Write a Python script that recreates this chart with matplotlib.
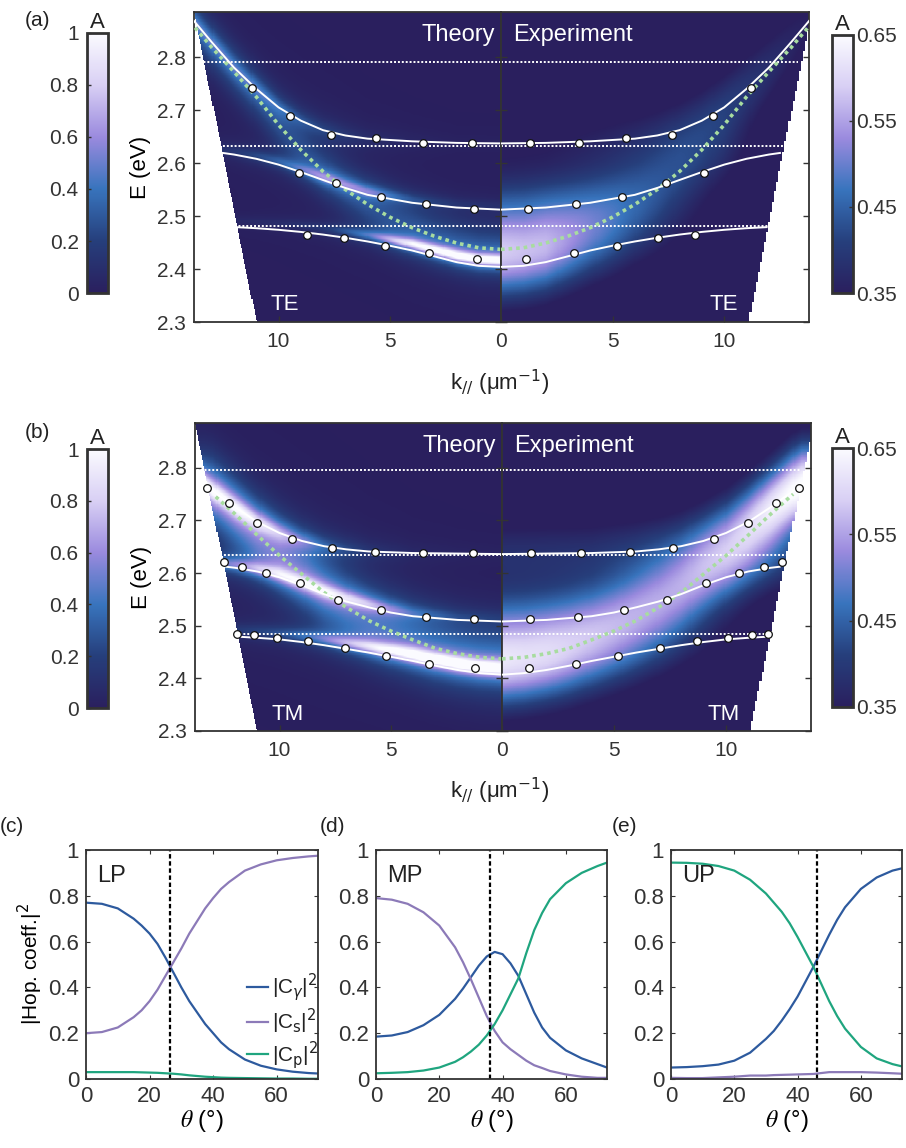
import numpy as np
import matplotlib.pyplot as plt
from matplotlib.colors import LinearSegmentedColormap

plt.rcParams['font.family'] = ['Liberation Sans', 'DejaVu Sans']
plt.rcParams['font.size'] = 15
plt.rcParams['axes.edgecolor'] = '#333333'
plt.rcParams['xtick.color'] = '#333333'
plt.rcParams['ytick.color'] = '#333333'
plt.rcParams['text.color'] = '#222222'

# k grid (um^-1) on which the map weights are given
k_w = [0, 2, 4, 6, 8, 10, 12, 14]

# ---------------- (a) TE ----------------
a_up_k = [0, 2, 4, 6, 7, 8, 9, 10, 11, 12, 13, 13.8]
a_up_E = [2.637, 2.638, 2.641, 2.646, 2.652, 2.662, 2.680, 2.705, 2.740, 2.780, 2.828, 2.868]
a_mp_k = [0, 2, 4, 6, 7, 8, 9, 10, 11, 12, 12.5]
a_mp_E = [2.512, 2.516, 2.525, 2.540, 2.553, 2.568, 2.583, 2.597, 2.608, 2.616, 2.619]
a_lp_k = [0, 1, 2, 3, 4, 5, 6, 7, 8, 9, 10, 11, 11.9]
a_lp_E = [2.404, 2.406, 2.413, 2.424, 2.435, 2.444, 2.452, 2.459, 2.465, 2.470, 2.474, 2.477, 2.479]
a_cav_k = [0, 1, 2, 3, 4, 5, 6, 7, 8, 9, 10, 11, 12, 13, 13.8]
a_cav_E = [2.437, 2.440, 2.449, 2.462, 2.478, 2.498, 2.522, 2.550, 2.584, 2.625, 2.672, 2.725, 2.772, 2.818, 2.858]
a_exc_E = [2.790, 2.632, 2.481]
a_exc_kth = [13.35, 12.6, 11.85]
a_exc_kex = [13.3, 12.65, 12.05]
a_dot_up_k = [1.3, 3.5, 5.6, 7.65, 9.5, 11.2]
a_dot_up_E = [2.638, 2.638, 2.647, 2.653, 2.689, 2.742]
a_dot_mp_k = [1.2, 3.35, 5.4, 7.4, 9.1]
a_dot_mp_E = [2.514, 2.523, 2.536, 2.562, 2.582]
a_dot_lp_k = [1.1, 3.25, 5.2, 7.05, 8.7]
a_dot_lp_E = [2.418, 2.430, 2.443, 2.458, 2.465]
# map weights: LP, MP, UP, bare cavity
a_th_lp = [1.0, 1.0, 0.85, 0.4, 0.15, 0.08, 0.05, 0.03]
a_th_mp = [0.08, 0.1, 0.2, 0.4, 0.45, 0.3, 0.15, 0.08]
a_th_up = [0.02, 0.02, 0.04, 0.08, 0.2, 0.28, 0.3, 0.3]
a_th_cav = [0.22, 0.22, 0.22, 0.22, 0.2, 0.2, 0.2, 0.2]
a_ex_lp = [0.2, 0.18, 0.12, 0.07, 0.04, 0.02, 0.0, 0.0]
a_ex_mp = [0.08, 0.08, 0.07, 0.06, 0.05, 0.04, 0.02, 0.0]
a_ex_up = [0.04, 0.04, 0.05, 0.06, 0.07, 0.07, 0.05, 0.03]
a_ex_cav = [0.08, 0.08, 0.07, 0.06, 0.05, 0.04, 0.03, 0.02]

# ---------------- (b) TM ----------------
b_up_k = [0, 2, 4, 6, 7, 8, 9, 10, 11, 12, 13, 13.4]
b_up_E = [2.636, 2.637, 2.638, 2.641, 2.645, 2.651, 2.661, 2.676, 2.697, 2.725, 2.756, 2.772]
b_mp_k = [0, 2, 4, 5, 6, 7, 8, 9, 10, 11, 12, 12.4]
b_mp_E = [2.508, 2.511, 2.518, 2.525, 2.535, 2.546, 2.560, 2.577, 2.592, 2.603, 2.610, 2.612]
b_lp_k = [0, 1, 2, 3, 4, 5, 6, 7, 8, 9, 10, 11, 11.8]
b_lp_E = [2.407, 2.410, 2.416, 2.424, 2.433, 2.441, 2.449, 2.456, 2.463, 2.469, 2.474, 2.477, 2.479]
b_cav_k = [0, 1, 2, 3, 4, 5, 6, 7, 8, 9, 10, 11, 12, 13]
b_cav_E = [2.437, 2.440, 2.447, 2.457, 2.473, 2.490, 2.510, 2.535, 2.563, 2.598, 2.633, 2.672, 2.712, 2.750]
b_exc_E = [2.795, 2.635, 2.485]
b_exc_kth = [13.8, 12.6, 11.9]
b_exc_kex = [13.3, 12.7, 11.9]
b_dot_up_k = [1.3, 3.55, 5.7, 7.65, 9.45, 11.0, 12.25, 13.25]
b_dot_up_E = [2.638, 2.638, 2.640, 2.647, 2.665, 2.695, 2.733, 2.762]
b_dot_mp_k = [1.25, 3.4, 5.45, 7.35, 9.1, 10.6, 11.7, 12.5]
b_dot_mp_E = [2.512, 2.516, 2.529, 2.548, 2.581, 2.600, 2.612, 2.621]
b_dot_lp_k = [1.2, 3.3, 5.2, 7.05, 8.7, 10.1, 11.15, 11.9]
b_dot_lp_E = [2.420, 2.428, 2.442, 2.457, 2.470, 2.477, 2.483, 2.484]
b_th_lp = [1.0, 1.0, 0.95, 0.7, 0.45, 0.25, 0.15, 0.08]
b_th_mp = [0.08, 0.12, 0.25, 0.5, 0.65, 0.65, 0.5, 0.35]
b_th_up = [0.02, 0.03, 0.05, 0.12, 0.28, 0.5, 0.65, 0.65]
b_th_cav = [0.3, 0.3, 0.3, 0.33, 0.36, 0.38, 0.4, 0.4]
b_ex_lp = [0.22, 0.2, 0.15, 0.1, 0.06, 0.03, 0.01, 0.0]
b_ex_mp = [0.09, 0.09, 0.09, 0.1, 0.1, 0.1, 0.08, 0.06]
b_ex_up = [0.08, 0.08, 0.08, 0.09, 0.1, 0.13, 0.2, 0.24]
b_ex_cav = [0.09, 0.09, 0.1, 0.11, 0.12, 0.12, 0.13, 0.14]

# ---------------- (c)-(e) Hopfield coefficients ----------------
lp_t = [0, 5, 10, 15, 17.5, 20, 22.5, 25, 27.5, 30, 32.5, 35, 37.5, 40, 42.5, 45, 50, 55, 60, 65, 70, 73]
lp_g = [0.77, 0.765, 0.745, 0.70, 0.67, 0.635, 0.59, 0.53, 0.465, 0.40, 0.34, 0.29, 0.24, 0.20, 0.16,
        0.13, 0.085, 0.058, 0.042, 0.032, 0.026, 0.024]
lp_s = [0.20, 0.205, 0.225, 0.27, 0.30, 0.34, 0.39, 0.45, 0.51, 0.57, 0.635, 0.69, 0.745, 0.79, 0.83,
        0.86, 0.91, 0.937, 0.955, 0.965, 0.972, 0.975]
lp_p = [0.03, 0.03, 0.03, 0.03, 0.029, 0.028, 0.027, 0.025, 0.023, 0.02, 0.016, 0.013, 0.01, 0.008,
        0.006, 0.005, 0.004, 0.003, 0.002, 0.002, 0.001, 0.001]
mp_t = [0, 5, 10, 15, 20, 25, 27.5, 30, 32.5, 35, 37.5, 40, 42.5, 45, 47.5, 50, 52.5, 55, 60, 65, 70, 73]
mp_g = [0.185, 0.19, 0.205, 0.235, 0.28, 0.35, 0.395, 0.445, 0.495, 0.535, 0.555, 0.545, 0.505, 0.45,
        0.37, 0.29, 0.225, 0.18, 0.125, 0.09, 0.065, 0.05]
mp_s = [0.79, 0.783, 0.765, 0.728, 0.67, 0.575, 0.51, 0.435, 0.355, 0.275, 0.21, 0.16, 0.13, 0.105,
        0.08, 0.06, 0.048, 0.035, 0.02, 0.01, 0.005, 0.005]
mp_p = [0.025, 0.027, 0.03, 0.037, 0.05, 0.075, 0.095, 0.12, 0.15, 0.19, 0.24, 0.30, 0.37, 0.44,
        0.55, 0.65, 0.725, 0.785, 0.855, 0.9, 0.93, 0.945]
up_t = [0, 5, 10, 15, 20, 25, 30, 32.5, 35, 37.5, 40, 42.5, 45, 47.5, 50, 52.5, 55, 60, 65, 70, 73]
up_g = [0.05, 0.052, 0.056, 0.063, 0.08, 0.115, 0.175, 0.21, 0.255, 0.305, 0.36, 0.425, 0.49, 0.56,
        0.63, 0.695, 0.75, 0.83, 0.88, 0.91, 0.92]
up_s = [0.005, 0.004, 0.004, 0.007, 0.01, 0.015, 0.015, 0.017, 0.018, 0.019, 0.02, 0.021, 0.022,
        0.026, 0.03, 0.03, 0.03, 0.03, 0.028, 0.025, 0.023]
up_p = [0.945, 0.944, 0.94, 0.93, 0.91, 0.87, 0.81, 0.77, 0.73, 0.68, 0.62, 0.555, 0.49, 0.415,
        0.34, 0.275, 0.22, 0.14, 0.09, 0.065, 0.055]
theta_cross = [26.5, 36.1, 46.1]

HC = 0.19733  # eV um
cmap = LinearSegmentedColormap.from_list(
    'abs', [(0, '#2a1f5e'), (0.2, '#263f7c'), (0.4, '#3874bd'), (0.6, '#9a8ade'),
            (0.8, '#d8cff4'), (1, '#fbfbff')]).with_extremes(bad='white')

W, H = 906, 1148
fig = plt.figure(figsize=(W / 100, H / 100), dpi=100)


def ax_px(x0, y0, x1, y1):
    return fig.add_axes([x0 / W, 1 - y1 / H, (x1 - x0) / W, (y1 - y0) / H])


def absorption(kabs, E, bands, amps, cav, cav_amp, wids, offs, cav_wid, base, lorentz):
    img = np.full(E.shape, base, dtype=float)
    for (bk, bE), amp, wd, off in zip(bands, amps, wids, offs):
        x = (E - np.interp(kabs, bk, bE) - off) / wd
        shape = 1 / (1 + x ** 2) if lorentz else np.exp(-0.5 * x ** 2)
        img += np.interp(kabs, k_w, amp) * shape
    x = (E - np.interp(kabs, cav[0], cav[1])) / cav_wid
    img += np.interp(kabs, k_w, cav_amp) * np.exp(-0.5 * x ** 2)
    return img


E_top = 2.885
E_ax = np.linspace(2.3, E_top, 420)
k_th = np.linspace(-13.8, 0, 300)
k_ex = np.linspace(0, 13.8, 300)


def style_ax(ax):
    ax.tick_params(direction='in', left=True, right=True, top=False, bottom=True,
                   length=4, width=1, labelsize=15)
    for s in ax.spines.values():
        s.set_linewidth(1.3)


def dispersion_panel(top, bot, xL, xM, xR, bands, cav, exc, dots, th, ex, pol, th_w):
    axL = ax_px(xL, top, xM, bot)
    axR = ax_px(xM, top, xR, bot)
    band_xy = [(bands[i], bands[i + 1]) for i in (4, 2, 0)]  # LP, MP, UP

    KK, EE = np.meshgrid(np.abs(k_th), E_ax)
    img = absorption(KK, EE, band_xy, th[:3], cav, th[3], th_w[:3],
                     [0.012, 0.006, 0.0], th_w[3], 0.0, True)
    img[KK > EE / HC * 0.945] = np.nan
    imL = axL.imshow(img, extent=[-13.8, 0, 2.3, E_top], origin='lower', aspect='auto',
                     cmap=cmap, vmin=0, vmax=1, interpolation='nearest')

    KK, EE = np.meshgrid(k_ex, E_ax)
    img = absorption(KK, EE, band_xy, ex[:3], cav, ex[3], [0.055, 0.045, 0.05],
                     [0.02, 0.01, 0.0], 0.07, 0.30, False)
    Eq = np.floor(EE / 0.019) * 0.019
    img[KK > Eq / HC * 0.958] = np.nan
    imR = axR.imshow(img, extent=[0, 13.8, 2.3, E_top], origin='lower', aspect='auto',
                     cmap=cmap, vmin=0.35, vmax=0.65, interpolation='nearest')

    for ax, sgn in ((axL, -1), (axR, 1)):
        ext = exc[1] if sgn < 0 else exc[2]
        for e, kend in zip(exc[0], ext):
            ax.plot([0, sgn * kend], [e, e], color='white', lw=1.4, ls=(0, (1, 1)), zorder=2)
        ax.plot(sgn * np.array(cav[0]), cav[1], color='#a8dca0', lw=2.6,
                ls=(0, (1, 1.1)), zorder=3)
        for i in (0, 2, 4):
            ax.plot(sgn * np.array(bands[i]), bands[i + 1], color='white', lw=1.4, zorder=4)
        for i in (0, 2, 4):
            ax.plot(sgn * np.array(dots[i]), dots[i + 1], 'o', ms=5.5, mfc='white',
                    mec='#111111', mew=0.9, zorder=5)
        ax.set_ylim(2.3, E_top)
        style_ax(ax)
        ax.set_yticks([2.3, 2.4, 2.5, 2.6, 2.7, 2.8])
    axL.set_xlim(-13.8, 0)
    axR.set_xlim(0, 13.8)
    axL.set_yticklabels(['2.3', '2.4', '2.5', '2.6', '2.7', '2.8'])
    axR.set_yticklabels([])
    axL.tick_params(axis='y', pad=6)
    axL.set_xticks([-10, -5, 0])
    axL.set_xticklabels(['10', '5', '0'])
    axR.set_xticks([0, 5, 10])
    axR.set_xticklabels(['', '5', '10'])
    for ax in (axL, axR):
        ax.tick_params(axis='x', pad=7)
    axL.set_ylabel('E (eV)', fontsize=16, labelpad=4)

    axL.text(0.98, 0.925, 'Theory', transform=axL.transAxes, ha='right', va='center',
             color='white', fontsize=17)
    axR.text(0.04, 0.925, 'Experiment', transform=axR.transAxes, ha='left', va='center',
             color='white', fontsize=17)
    axL.text(0.25, 0.055, pol, transform=axL.transAxes, ha='left', va='center',
             color='white', fontsize=16)
    axR.text(0.77, 0.055, pol, transform=axR.transAxes, ha='right', va='center',
             color='white', fontsize=16)
    return axL, axR, imL, imR


def colorbars(im_th, im_ex, top, bot, top2, bot2):
    caxL = ax_px(87, top, 108, bot)
    cb = fig.colorbar(im_th, cax=caxL)
    caxL.yaxis.set_ticks_position('left')
    cb.set_ticks([0, 0.2, 0.4, 0.6, 0.8, 1])
    cb.set_ticklabels(['0', '0.2', '0.4', '0.6', '0.8', '1'])
    caxL.tick_params(direction='in', length=3, width=1, pad=6, labelsize=15)
    cb.outline.set_linewidth(2)
    cb.outline.set_edgecolor('#333333')
    caxL.set_title('A', fontsize=16, pad=1)

    caxR = ax_px(832, top2, 853, bot2)
    cb = fig.colorbar(im_ex, cax=caxR)
    cb.set_ticks([0.35, 0.45, 0.55, 0.65])
    cb.set_ticklabels(['0.35', '0.45', '0.55', '0.65'])
    caxR.tick_params(direction='in', length=3, width=1, pad=2, labelsize=15)
    cb.outline.set_linewidth(2)
    cb.outline.set_edgecolor('#333333')
    caxR.set_title('A', fontsize=16, pad=1)


# panel (a)
axL, axR, imL, imR = dispersion_panel(
    12, 322, 194, 501, 809,
    [a_up_k, a_up_E, a_mp_k, a_mp_E, a_lp_k, a_lp_E], (a_cav_k, a_cav_E),
    (a_exc_E, a_exc_kth, a_exc_kex),
    [a_dot_up_k, a_dot_up_E, a_dot_mp_k, a_dot_mp_E, a_dot_lp_k, a_dot_lp_E],
    [a_th_lp, a_th_mp, a_th_up, a_th_cav], [a_ex_lp, a_ex_mp, a_ex_up, a_ex_cav], 'TE',
    [0.010, 0.012, 0.02, 0.035])
colorbars(imL, imR, 33, 293, 35, 293)
fig.text(500 / W, 1 - 383 / H, r'k$_{//}$ (μm$^{-1}$)', ha='center', va='center', fontsize=16)

# panel (b)
axL, axR, imL, imR = dispersion_panel(
    423, 731, 195, 502, 811,
    [b_up_k, b_up_E, b_mp_k, b_mp_E, b_lp_k, b_lp_E], (b_cav_k, b_cav_E),
    (b_exc_E, b_exc_kth, b_exc_kex),
    [b_dot_up_k, b_dot_up_E, b_dot_mp_k, b_dot_mp_E, b_dot_lp_k, b_dot_lp_E],
    [b_th_lp, b_th_mp, b_th_up, b_th_cav], [b_ex_lp, b_ex_mp, b_ex_up, b_ex_cav], 'TM',
    [0.013, 0.014, 0.02, 0.05])
colorbars(imL, imR, 449, 708, 448, 707)
fig.text(500 / W, 1 - 791 / H, r'k$_{//}$ (μm$^{-1}$)', ha='center', va='center', fontsize=16)

# panels (c)-(e)
c_blue, c_purple, c_green = '#2d5a9e', '#8c7ab8', '#1fa57f'
hop = [(lp_t, lp_g, lp_s, lp_p, 'LP'), (mp_t, mp_g, mp_s, mp_p, 'MP'),
       (up_t, up_g, up_s, up_p, 'UP')]
xs = [(86, 318), (376, 607), (671, 902)]
for (t, g, s, p, name), (x0, x1), tc in zip(hop, xs, theta_cross):
    ax = ax_px(x0, 850, x1, 1079)
    ax.plot(t, g, color=c_blue, lw=1.6, label=r'|C$_{\gamma}$|$^2$')
    ax.plot(t, s, color=c_purple, lw=1.6, label=r'|C$_{\rm s}$|$^2$')
    ax.plot(t, p, color=c_green, lw=1.6, label=r'|C$_{\rm p}$|$^2$')
    ax.axvline(tc, color='black', lw=1.6, ls=(0, (2, 1.2)))
    ax.set_xlim(0, 73)
    ax.set_ylim(0, 1)
    ax.set_xticks([0, 20, 40, 60])
    ax.set_yticks([0, 0.2, 0.4, 0.6, 0.8, 1])
    ax.set_yticklabels(['0', '0.2', '0.4', '0.6', '0.8', '1'])
    ax.tick_params(direction='in', top=True, right=True, length=3, width=0.8,
                   labelsize=16, pad=5)
    for sp in ax.spines.values():
        sp.set_linewidth(1.3)
    ax.text(0.05, 0.885, name, transform=ax.transAxes, ha='left', va='center', fontsize=17)
    ax.set_xlabel(r'$\theta$ (°)', fontsize=17, labelpad=1, math_fontfamily='stix')
    if name == 'LP':
        ax.set_ylabel('|Hop. coeff.|$^2$', fontsize=15, labelpad=2)
        ax.legend(loc='upper right', bbox_to_anchor=(1.0, 0.47), frameon=False,
                  fontsize=15, handlelength=1.0, handletextpad=0.2, labelspacing=0.15,
                  borderpad=0, borderaxespad=0)

for lab, x, y in [('(a)', 25, 20), ('(b)', 25, 432), ('(c)', 0, 826), ('(d)', 320, 826),
                  ('(e)', 612, 826)]:
    fig.text(x / W, 1 - y / H, lab, ha='left', va='center', fontsize=15)

fig.savefig('out.png', dpi=100)
